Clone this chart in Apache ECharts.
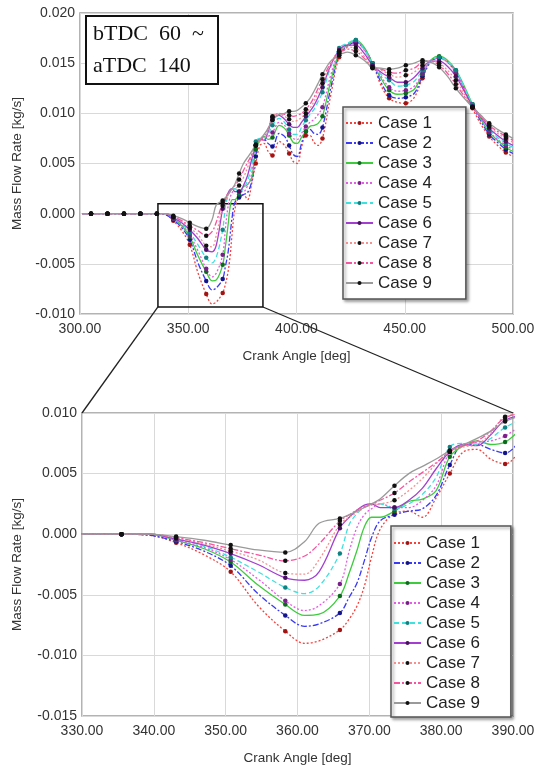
<!DOCTYPE html>
<html>
<head>
<meta charset="utf-8">
<script src="https://cdn.jsdelivr.net/npm/echarts@6/dist/echarts.min.js"></script>
<style>
  html, body { margin: 0; padding: 0; background: #fff; }
  #chart { width: 538px; height: 768px; }
</style>
</head>
<body>
<div id="chart"></div>
<script>
// Crank angle samples [deg] shared by every case
const crankAngle = [
  301, 305.1, 312.7, 320.3, 327.9, 335.5, 339.5, 343.1, 347, 350.7,
  354.5, 358.3, 361, 363, 365.9, 367.2, 368.3, 369.3, 370.3, 371.5,
  373.5, 375.5, 377.4, 379.3, 381.2, 383.1, 385, 386.9, 388.9, 392,
  394.5, 396.6, 398.5, 400.4, 402.3, 404.3, 406.2, 408.1, 410, 412,
  415.8, 419.7, 423.5, 427.4, 431.2, 435.1, 439, 442.8, 446.6, 450.5,
  454.4, 458.2, 462, 465.9, 469.7, 473.6, 477.5, 481.3, 485.2, 489,
  492.9, 496.7, 500
];

// Angles at which the output step places a marker
const markerAngle = [
  305.1, 312.7, 320.3, 327.9, 335.5, 343.1, 350.7, 358.3, 365.9, 373.5,
  381.2, 388.9, 396.6, 404.3, 412, 419.7, 427.4, 435.1, 442.8, 450.5,
  458.2, 465.9, 473.6, 481.3, 489, 496.7
];

// Mass flow rate [kg/s] for each case, one value per crank angle
const case1 = [
  0, 0, 0, 0, 0, 0, -0.0001, -0.0007, -0.0017, -0.0031,
  -0.0059, -0.0080, -0.0090, -0.0088, -0.0079, -0.0070, -0.0059, -0.0043, -0.0019, 0.0004,
  0.0017, 0.0019, 0.0014, 0.0030, 0.0050, 0.0068, 0.0070, 0.0062, 0.0058, 0.0072,
  0.0068, 0.0060, 0.0052, 0.0050, 0.0066, 0.0078, 0.0078, 0.0071, 0.0068, 0.0075,
  0.0118, 0.0156, 0.0166, 0.0170, 0.0164, 0.0150, 0.0128, 0.0115, 0.0111, 0.0110,
  0.0116, 0.0135, 0.0151, 0.0155, 0.0151, 0.0140, 0.0123, 0.0105, 0.0089, 0.0077,
  0.0068, 0.0061, 0.0057
];
const case2 = [
  0, 0, 0, 0, 0, 0, -0.0001, -0.0006, -0.0014, -0.0026,
  -0.0049, -0.0067, -0.0076, -0.0074, -0.0065, -0.0052, -0.0040, -0.0022, -0.0003, 0.0011,
  0.0016, 0.0019, 0.0021, 0.0032, 0.0057, 0.0074, 0.0074, 0.0070, 0.0067, 0.0080,
  0.0077, 0.0068, 0.0059, 0.0057, 0.0070, 0.0082, 0.0084, 0.0080, 0.0079, 0.0086,
  0.0125, 0.0158, 0.0167, 0.0171, 0.0165, 0.0150, 0.0131, 0.0118, 0.0115, 0.0116,
  0.0120, 0.0137, 0.0152, 0.0156, 0.0152, 0.0142, 0.0125, 0.0107, 0.0092, 0.0079,
  0.0071, 0.0064, 0.0060
];
const case3 = [
  0, 0, 0, 0, 0, 0, 0, -0.0005, -0.0012, -0.0023,
  -0.0042, -0.0058, -0.0067, -0.0066, -0.0051, -0.0032, -0.0013, 0.0006, 0.0014, 0.0014,
  0.0019, 0.0027, 0.0029, 0.0036, 0.0064, 0.0073, 0.0077, 0.0074, 0.0076, 0.0088,
  0.0085, 0.0078, 0.0071, 0.0070, 0.0076, 0.0082, 0.0087, 0.0088, 0.0090, 0.0097,
  0.0132, 0.0160, 0.0168, 0.0173, 0.0166, 0.0150, 0.0135, 0.0123, 0.0119, 0.0120,
  0.0124, 0.0139, 0.0153, 0.0157, 0.0153, 0.0143, 0.0127, 0.0109, 0.0094, 0.0081,
  0.0073, 0.0066, 0.0062
];
const case4 = [
  0, 0, 0, 0, 0, 0, 0, -0.0005, -0.0011, -0.0021,
  -0.0037, -0.0055, -0.0063, -0.0059, -0.0041, -0.0014, 0.0006, 0.0016, 0.0021, 0.0025,
  0.0022, 0.0022, 0.0028, 0.0040, 0.0068, 0.0074, 0.0076, 0.0077, 0.0081, 0.0091,
  0.0088, 0.0080, 0.0075, 0.0074, 0.0080, 0.0087, 0.0091, 0.0094, 0.0099, 0.0106,
  0.0138, 0.0162, 0.0169, 0.0172, 0.0163, 0.0149, 0.0137, 0.0126, 0.0122, 0.0123,
  0.0127, 0.0140, 0.0152, 0.0155, 0.0151, 0.0141, 0.0125, 0.0107, 0.0094, 0.0082,
  0.0074, 0.0068, 0.0064
];
const case5 = [
  0, 0, 0, 0, 0, 0, 0, -0.0004, -0.0010, -0.0019,
  -0.0031, -0.0044, -0.0049, -0.0043, -0.0016, 0.0008, 0.0017, 0.0022, 0.0025, 0.0025,
  0.0021, 0.0025, 0.0033, 0.0047, 0.0072, 0.0075, 0.0074, 0.0079, 0.0088, 0.0095,
  0.0091, 0.0084, 0.0079, 0.0079, 0.0086, 0.0093, 0.0099, 0.0104, 0.0112, 0.0121,
  0.0146, 0.0165, 0.0170, 0.0173, 0.0164, 0.0150, 0.0139, 0.0133, 0.0127, 0.0128,
  0.0132, 0.0143, 0.0153, 0.0156, 0.0152, 0.0143, 0.0126, 0.0109, 0.0096, 0.0084,
  0.0076, 0.0070, 0.0066
];
const case6 = [
  0, 0, 0, 0, 0, 0, 0, -0.0004, -0.0009, -0.0016,
  -0.0025, -0.0036, -0.0038, -0.0031, 0.0005, 0.0014, 0.0020, 0.0024, 0.0025, 0.0022,
  0.0022, 0.0028, 0.0038, 0.0054, 0.0068, 0.0074, 0.0073, 0.0082, 0.0094, 0.0098,
  0.0094, 0.0089, 0.0086, 0.0086, 0.0091, 0.0097, 0.0102, 0.0108, 0.0116, 0.0126,
  0.0148, 0.0163, 0.0168, 0.0168, 0.0160, 0.0148, 0.0141, 0.0136, 0.0131, 0.0131,
  0.0136, 0.0145, 0.0152, 0.0152, 0.0147, 0.0137, 0.0122, 0.0107, 0.0096, 0.0085,
  0.0078, 0.0072, 0.0068
];
const case7 = [
  0, 0, 0, 0, 0, 0, 0, -0.0003, -0.0008, -0.0014,
  -0.0021, -0.0032, -0.0033, -0.0021, 0.0008, 0.0014, 0.0018, 0.0022, 0.0024, 0.0025,
  0.0028, 0.0036, 0.0046, 0.0058, 0.0068, 0.0072, 0.0074, 0.0083, 0.0097, 0.0099,
  0.0097, 0.0094, 0.0092, 0.0093, 0.0096, 0.0100, 0.0105, 0.0112, 0.0121, 0.0130,
  0.0149, 0.0162, 0.0166, 0.0165, 0.0157, 0.0146, 0.0143, 0.0139, 0.0136, 0.0138,
  0.0141, 0.0148, 0.0152, 0.0150, 0.0143, 0.0133, 0.0119, 0.0106, 0.0097, 0.0087,
  0.0080, 0.0075, 0.0071
];
const case8 = [
  0, 0, 0, 0, 0, 0, 0, -0.0003, -0.0007, -0.0012,
  -0.0017, -0.0022, -0.0018, -0.0008, 0.0011, 0.0016, 0.0020, 0.0023, 0.0025, 0.0028,
  0.0034, 0.0043, 0.0051, 0.0059, 0.0068, 0.0073, 0.0077, 0.0085, 0.0096, 0.0100,
  0.0099, 0.0098, 0.0097, 0.0098, 0.0100, 0.0104, 0.0109, 0.0116, 0.0125, 0.0134,
  0.0150, 0.0160, 0.0164, 0.0162, 0.0155, 0.0145, 0.0144, 0.0141, 0.0140, 0.0143,
  0.0145, 0.0151, 0.0152, 0.0148, 0.0140, 0.0129, 0.0117, 0.0106, 0.0097, 0.0088,
  0.0082, 0.0077, 0.0073
];
const case9 = [
  0, 0, 0, 0, 0, 0, 0, -0.0002, -0.0005, -0.0009,
  -0.0013, -0.0015, -0.0006, 0.0009, 0.0013, 0.0016, 0.0019, 0.0022, 0.0025, 0.0029,
  0.0040, 0.0050, 0.0056, 0.0062, 0.0069, 0.0074, 0.0079, 0.0085, 0.0093, 0.0099,
  0.0100, 0.0102, 0.0102, 0.0103, 0.0106, 0.0110, 0.0115, 0.0122, 0.0130, 0.0139,
  0.0152, 0.0158, 0.0161, 0.0158, 0.0153, 0.0146, 0.0145, 0.0144, 0.0145, 0.0148,
  0.0150, 0.0153, 0.0151, 0.0146, 0.0137, 0.0125, 0.0115, 0.0106, 0.0098, 0.0090,
  0.0084, 0.0079, 0.0075
];

const caseNames = ['Case 1', 'Case 2', 'Case 3', 'Case 4', 'Case 5', 'Case 6', 'Case 7', 'Case 8', 'Case 9'];
const caseValues = [case1, case2, case3, case4, case5, case6, case7, case8, case9];

// Region of the full chart that is enlarged below (angle, flow rate)
const zoomBoxAngle = [336, 384.5];
const zoomBoxFlow = [-0.0093, 0.001];

// Line and marker styling per case
const caseStyles = [
  { line: '#f5413d', dash: [2, 2],       mark: '#a01414' },
  { line: '#3a3af5', dash: [6, 2, 2, 2], mark: '#14148a' },
  { line: '#3ecb3e', dash: 'solid',      mark: '#0c6a1c' },
  { line: '#e35ce3', dash: [2, 2],       mark: '#7a1f8a' },
  { line: '#3fe0e0', dash: [5, 3],       mark: '#108080' },
  { line: '#a23fd0', dash: 'solid',      mark: '#4a1060' },
  { line: '#f59090', dash: [2, 2],       mark: '#111111' },
  { line: '#f5559f', dash: [6, 2, 2, 2], mark: '#111111' },
  { line: '#9a9a9a', dash: 'solid',      mark: '#111111' }
];

const FONT = "'Liberation Sans', Arial, sans-serif";
const markerSet = new Set(markerAngle);

function seriesData(values) {
  return crankAngle.map((a, i) => markerSet.has(a)
    ? [a, values[i]]
    : { value: [a, values[i]], symbol: 'none' });
}

function buildSeries(gridIdx) {
  return caseValues.map((vals, k) => {
    const st = caseStyles[k];
    const s = {
      name: caseNames[k],
      type: 'line',
      xAxisIndex: gridIdx,
      yAxisIndex: gridIdx,
      data: seriesData(vals),
      smooth: 0.35,
      symbol: 'circle',
      symbolSize: 4.5,
      showAllSymbol: true,
      clip: true,
      lineStyle: { color: st.line, width: 1.3, type: st.dash },
      itemStyle: { color: st.mark },
      emphasis: { disabled: true }
    };
    if (gridIdx === 0 && k === 8) {
      s.markArea = {
        silent: true,
        itemStyle: { color: 'rgba(0,0,0,0)', borderColor: '#111', borderWidth: 1.5 },
        data: [[
          { coord: [zoomBoxAngle[0], zoomBoxFlow[1]] },
          { coord: [zoomBoxAngle[1], zoomBoxFlow[0]] }
        ]]
      };
    }
    return s;
  });
}

function valueAxis(opts) {
  return Object.assign({
    type: 'value',
    axisLine: { show: false },
    axisTick: { show: false },
    splitLine: { show: true, lineStyle: { color: '#d9d9d9', width: 1 } },
    nameLocation: 'middle',
    nameTextStyle: { fontFamily: FONT, fontSize: 13.5, color: '#333' }
  }, opts);
}

function legendBox(left, top, padding) {
  return {
    data: caseNames,
    orient: 'vertical',
    left: left,
    top: top,
    itemWidth: 27,
    itemHeight: 5,
    itemGap: 0,
    padding: padding,
    backgroundColor: '#ffffff',
    borderColor: '#555555',
    borderWidth: 1.5,
    shadowColor: 'rgba(0,0,0,0.35)',
    shadowBlur: 3,
    shadowOffsetX: 2,
    shadowOffsetY: 2,
    selectedMode: false,
    textStyle: { fontFamily: FONT, fontSize: 17, lineHeight: 20, color: '#222' }
  };
}

const labelStyle = { fontFamily: FONT, fontSize: 14, color: '#333', margin: 8 };

const chart = echarts.init(document.getElementById('chart'), null, { renderer: 'canvas' });

chart.setOption({
  animation: false,
  backgroundColor: '#ffffff',
  grid: [
    { left: 80, right: 25, top: 13, height: 301, show: true, borderColor: '#9a9a9a', borderWidth: 1.5 },
    { left: 82, right: 25, top: 413, height: 303, show: true, borderColor: '#9a9a9a', borderWidth: 1.5 }
  ],
  xAxis: [
    valueAxis({ gridIndex: 0, min: 300, max: 500, interval: 50, name: 'Crank Angle [deg]', nameGap: 35,
      axisLabel: Object.assign({ formatter: v => v.toFixed(2) }, labelStyle) }),
    valueAxis({ gridIndex: 1, min: 330, max: 390, interval: 10, name: 'Crank Angle [deg]', nameGap: 35,
      axisLabel: Object.assign({ formatter: v => v.toFixed(2) }, labelStyle) })
  ],
  yAxis: [
    valueAxis({ gridIndex: 0, min: -0.01, max: 0.02, interval: 0.005, name: 'Mass Flow Rate [kg/s]', nameGap: 56,
      axisLabel: Object.assign({ formatter: v => v.toFixed(3) }, labelStyle, { margin: 5 }) }),
    valueAxis({ gridIndex: 1, min: -0.015, max: 0.01, interval: 0.005, name: 'Mass Flow Rate [kg/s]', nameGap: 58,
      axisLabel: Object.assign({ formatter: v => v.toFixed(3) }, labelStyle, { margin: 5 }) })
  ],
  legend: [
    legendBox(343, 107, [6, 34, 6, 2]),
    legendBox(391, 526, [7, 31, 4, 2])
  ],
  series: buildSeries(0).concat(buildSeries(1))
});

// Annotation box and the lines tying the marked region to the enlarged chart
const boxBL = chart.convertToPixel({ gridIndex: 0 }, [zoomBoxAngle[0], zoomBoxFlow[0]]);
const boxBR = chart.convertToPixel({ gridIndex: 0 }, [zoomBoxAngle[1], zoomBoxFlow[0]]);
const zoomTL = chart.convertToPixel({ gridIndex: 1 }, [330, 0.01]);
const zoomTR = chart.convertToPixel({ gridIndex: 1 }, [390, 0.01]);

chart.setOption({
  graphic: [
    {
      type: 'group',
      left: 85,
      top: 15,
      z: 10,
      children: [
        { type: 'rect', shape: { x: 0, y: 0, width: 132, height: 68 },
          style: { fill: '#ffffff', stroke: '#111', lineWidth: 2 } },
        { type: 'text', x: 7, y: 18,
          style: { text: 'bTDC  60  ~', fill: '#111', font: "22px 'Liberation Serif', 'DejaVu Serif', serif", verticalAlign: 'middle' } },
        { type: 'text', x: 7, y: 50,
          style: { text: 'aTDC  140', fill: '#111', font: "22px 'Liberation Serif', 'DejaVu Serif', serif", verticalAlign: 'middle' } }
      ]
    },
    { type: 'line', z: 10, shape: { x1: boxBL[0], y1: boxBL[1], x2: zoomTL[0], y2: zoomTL[1] },
      style: { stroke: '#222', lineWidth: 1.3 } },
    { type: 'line', z: 10, shape: { x1: boxBR[0], y1: boxBR[1], x2: zoomTR[0], y2: zoomTR[1] },
      style: { stroke: '#222', lineWidth: 1.3 } }
  ]
});
</script>
</body>
</html>
